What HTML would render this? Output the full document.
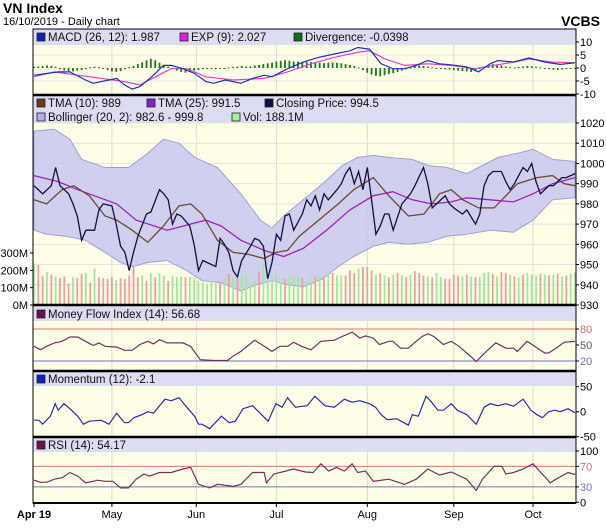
<!DOCTYPE html>
<html><head><meta charset="utf-8">
<style>
body{margin:0;background:#fff;width:606px;height:525px;overflow:hidden;font-family:"Liberation Sans",sans-serif;}
svg text{font-family:"Liberation Sans",sans-serif;}
</style></head>
<body>
<svg id="c" width="606" height="525" xmlns="http://www.w3.org/2000/svg">
<text x="3" y="13" font-size="14" font-weight="bold">VN Index</text>
<text x="3" y="25" font-size="11">16/10/2019 - Daily chart</text>
<text x="600" y="26" font-size="14" font-weight="bold" text-anchor="end">VCBS</text>
</svg>
<script>
// ---- data ----
const closeDays=[0,2,4,5,6,7,8,9,10,11,12,14,15,16,18,19,20,21,22,23,24,26,27,29,30,31,32,33,34,36,37,38,39,40,42,43,44,45,46,47,48,50,51,52,53,54,55,56,57,58,59,60,62,63,64,65,66,67,68,70,71,72,73,74,75,76,77,78,79,80,81,82,83,85,87,88,90,91,92,93,95,96,97,99,100,102,103,104,105,106,108,109,110,111,112,113,114,115,116,117,119,120,122,123,125];
const closeVals=[989,985,989,998,989,987,985,980,974,962,967,967,977,980,979,970,959,956,947,956,964,975,976,987,985,982,970,975,974,969,960,947,952,951,949,963,960,956,947,944,952,959,963,962,959,943,951,965,962,974,975,967,975,982,979,984,977,985,982,987,990,995,998,990,996,987,998,982,965,969,975,975,967,980,985,989,998,990,978,980,984,980,978,975,977,970,975,989,994,996,996,991,987,990,994,998,996,1000,991,985,989,989,993,993,995];
const tma25Days=[0,5.6,10.1,19.1,23.6,30.8,34.4,39.7,43.3,47.8,53.2,57.7,62.2,67.6,73,78.4,82.9,87.4,91.9,96.4,100,105.4,110.8,115.3,119.8,125];
const tma25Vals=[994,991,987,980,972,967,969,972,969,962,957,954,958,967,977,984,986,982,980,981,983,982,981,985,990,993];
const tma10Days=[0,2.9,6.5,9.2,12.8,16.4,19.1,22.7,26.3,29.9,33.5,36.2,38.8,42.4,46,49.6,53.2,55.9,58.6,61.3,65.8,70.3,73.9,78.4,82,86.5,90.1,93.7,96.4,99.1,102.7,106.3,109,111.7,116.2,119.8,122.5,125];
const tma10Vals=[982,980,987,989,984,974,972,967,961,969,979,980,975,962,956,955,953,956,957,964,972,980,987,993,984,974,975,985,987,982,978,978,984,990,993,994,990,989];
const bbUpDays=[0,4.7,8.3,11,16.4,21.8,26.3,29.9,33.5,37.1,42.4,47.8,52.3,55,57.7,62.2,66.7,71.2,74.8,78.4,82,87.4,91,95.5,100,103.6,107.2,111.7,115.3,119.8,125];
const bbUpVals=[1016,1017,1012,1002,998,998,1005,1012,1010,1003,998,985,972,968,974,982,990,999,1003,1004,1003,1002,999,998,995,999,1003,1005,1007,1002,1001];
const bbLoDays=[0,2.9,7.4,11.9,16.4,20,22.7,26.3,30.8,35.3,38.8,43.3,47.8,51.4,55,58.6,62.2,66.7,70.3,73.9,78.4,82,86.5,91,95.5,100,105.4,110.8,115.3,119.8,125];
const bbLoVals=[967,965,964,962,956,951,949,951,952,947,942,941,937,940,942,940,939,943,949,954,959,961,960,961,964,965,967,966,972,982,983];
const volumes=[240,230,165,190,175,165,155,165,125,160,155,180,185,130,210,160,155,150,160,145,155,150,170,225,160,170,140,185,160,185,170,140,170,160,165,160,165,155,140,130,120,140,125,130,155,180,160,160,170,185,125,140,190,240,160,160,165,140,150,165,165,170,155,130,155,165,175,165,180,185,170,170,170,200,185,210,220,220,200,175,185,170,160,175,185,170,160,175,195,185,170,165,160,185,160,150,150,175,170,165,175,165,160,165,185,190,180,165,190,185,175,165,160,175,185,175,170,180,175,170,175,180,165,170,180,188];
const volDir="gddgdgdddgddgdgddddgdddddgdgdggdgggdgggggggdgdgdggggdgggggdgggdggdgdgdggdddgdddgdgdgdgdgdddgdggddddgdgdgggdgddgdgdgggdgdgdgdgg";
const macdDays=[0,5.6,8.3,11.9,13.7,17.3,19.1,20.9,22.7,24.5,27.2,29.9,31.7,34.4,37.1,39.7,41.5,44.2,47.8,50.5,53.2,55,58.6,62.2,65.8,69.4,73,74.8,77.5,80.2,82.9,85.6,88.3,91,93.7,96.4,100,102.7,105.4,107.2,110.8,114.4,118,121.6,125];
const macdVals=[-2.75,-1.5,-1.5,-4.6,-5.9,-4.6,-4,-6.5,-8.1,-7.1,-3.4,1,1,-0.25,-2.1,-5.2,-5.9,-4.6,-5.9,-4,-2.75,-3.4,-0.25,2.25,4.1,5.4,6.6,7.9,7.25,1.6,-0.25,-0.25,1,2.9,1.6,1.25,0.4,-1.5,1.6,2.9,2.25,3.9,2.25,1.4,1.987];
const expDays=[0,4.7,10.1,15.5,20.9,24.5,28.1,31.7,35.3,39.7,46,53.2,58.6,64,69.4,74.8,77.5,81.1,85.6,91,96.4,101.8,106.3,110.8,114.4,119.8,125];
const expVals=[-3.4,-1.5,-2.75,-4,-5.25,-6.5,-3.4,-0.25,-0.25,-3.4,-4.6,-4,-1.5,1.6,4.1,6,6.6,3.5,1,1.6,1,-0.25,1,2.25,3.5,2.25,2.027];
const divergence=[0.5,0.6,0.8,1,0.8,0.5,-0.5,-1,-1.2,-1.3,-1,-0.8,-0.3,0.3,0.5,0.3,-0.3,-0.8,-1.3,-1.5,-1.2,-0.5,0.3,0.8,1.5,2.2,3,3.5,3,2,1.2,0.5,-0.3,-1,-1.5,-1.8,-1.5,-1,-0.8,-0.5,-0.3,-0.3,-0.5,-0.4,-0.2,0.2,0.4,0.6,0.8,0.5,0.6,1,1.2,1.5,1.8,2,2.5,2.8,3,2.8,2.5,2.5,2.2,2.4,2.3,2.1,2,1.9,2,2.1,2,1.8,1.5,1.2,0.8,0.2,-0.8,-1.8,-2.5,-3,-3.2,-2.8,-2.4,-2,-1.5,-1,-0.5,0.2,0.8,1,0.8,0.5,0.2,-0.2,-0.4,-0.5,-0.6,-0.8,-1,-1.2,-1.3,-1.5,-1.2,-0.3,0.5,1.2,1.5,1.3,1,0.6,0.3,0.2,0.4,0.6,0.8,0.7,0.5,0.2,-0.2,-0.5,-0.7,-0.8,-0.6,-0.4,-0.2,-0.04];
const mfiDays=[0,1.5,2.9,4.7,6.5,8.3,10.1,11.9,13.7,15,16.4,19.1,20.9,22.7,24.5,26.3,27.6,29,30.8,34.4,36.2,38.4,41.5,44.7,46,47.8,51,53.2,55,56.8,58.6,60,61.8,64,66.3,69.4,71.2,73.5,75.3,76.6,78.4,79.8,82,82.9,84.7,86.5,88.3,89.7,91,92.4,94.6,96.4,98.2,100.4,102.2,104.5,106.7,109,110.8,111.7,113.9,115.7,118,118.9,120.6,122.5,125];
const mfiVals=[47.5,41,47.5,54,57,65,65,57,49,54,47.5,46,40,40,51,57,52,60,54,54,47.5,22.5,21,21,29,38,59,47.5,38,47.5,47.5,55,47.5,41,57,59,66,74,63,67,63,51,57,57,44,44,57,66,71,66,51,57,47.5,32,19,38,54,44,44,38,57,47.5,35,35,44,55,56.68];
const momDays=[0,1.1,2,3.8,4.9,5.6,6.9,8.3,10.1,11.4,12.8,15.5,17.3,19.1,20.9,21.8,23.1,24.9,26.3,27.6,29,30.3,31.7,33.5,35.3,37.1,38,38.8,40.6,43.3,45.1,46.5,48.3,50.5,51.9,54.1,55.9,57.3,58.6,60.4,63.1,64.9,67.2,69.4,71.7,73.5,75.3,77.5,78.9,80.2,81.6,83.8,86.5,87.4,88.8,90.6,91.9,93.3,94.6,96.4,97.8,100,102.2,104,105.4,107.2,109,110.8,113,114.8,116.2,117.5,118.9,120.3,121.6,123.4,125];
const momVals=[-17,-17,-25,-9,16,3,16,6,-9,-25,-19,-17,-25,-3,-22,-22,-12,-6,0,-3,12,25,22,28,9,-9,-25,-25,-34,-9,-22,-19,6,12,0,-19,16,9,28,9,12,31,12,9,25,19,22,16,9,-6,-16,-14,-27,-6,-9,31,19,3,3,16,3,-6,-25,9,16,12,16,11,25,3,-6,-12,0,3,0,6,-2.1];
const rsiDays=[0,1.5,2.9,4.7,6.5,8.3,10.1,11.9,13.7,14.6,16.4,18.2,20,21.8,23.6,25.4,26.7,29,31.7,34.4,36.2,38,40.6,42.4,46,47.8,50.5,53.2,53.7,55.4,58.2,60,62.7,64.5,66.3,68.1,69.9,71.7,73.5,74.8,76.6,78.4,82,85.6,88.3,91,93.7,96.4,100,102.2,103.6,106.3,108.1,109,110.8,113,115.3,117.1,119.3,120.6,123.4,125];
const rsiVals=[43,39,39,45,48,58,51,38,41,43,41,41,28,28,45,55,51,58,58,65,68,35,28,35,31,35,58,58,38,55,61,65,59,58,75,61,68,61,75,58,61,41,45,35,45,65,53,59,45,23,45,70,70,55,58,65,75,58,38,45,58,54.17];
const monthLabels=["Apr 19","May","Jun","Jul","Aug","Sep","Oct"];
const monthDays=[0,18,37.5,56,77,97,115.3];
const priceTicks=[1020,1010,1000,990,980,970,960,950,940,930];
const volTicks=[300,200,100,0];
const macdTicks=[10,5,0,-5,-10];
const mfiTicks=[80,50,20];
const momTicks=[50,0,-50];
const rsiTicks=[100,70,30,0];

// ---- scales ----
const L=33,R=576,NDAYS=125;
const X=d=>L+1+d*(R-L-2)/NDAYS;
const yPrice=v=>123+(1020-v)*2.022;
const yVol=v=>305-v*0.1733;
const yMacd=v=>68-v*2.6;
const yMfi=v=>329+(80-v)*0.5333;
const yMom=v=>411.7-v*0.5;
const yRsi=v=>502.3-v*0.513;

const svg=document.getElementById('c');
const NS='http://www.w3.org/2000/svg';
function mk(tag,attrs,parent){const e=document.createElementNS(NS,tag);for(const k in attrs)e.setAttribute(k,attrs[k]);(parent||svg).appendChild(e);return e;}
function pathOf(days,vals,ys){return days.map((d,i)=>(i?'L':'M')+X(d).toFixed(1)+','+ys(vals[i]).toFixed(1)).join('');}

const panels=[[29,45,95,'macd-panel'],[95,123,305,'price-panel'],[305,321,371,'mfi-panel'],[371,386,437,'momentum-panel'],[437,452,503,'rsi-panel']];
panels.forEach(p=>{
  const r=mk('rect',{x:L,y:p[0],width:R-L,height:p[2]-p[0],fill:'#ffffe8'});
  
  
  const h=mk('rect',{x:L,y:p[0],width:R-L,height:p[1]-p[0],fill:'#dcdcf2'});
  
  
});
monthDays.forEach((d,i)=>{
  if(i===0)return;
  panels.forEach(p=>{
    const g=mk('line',{x1:X(d),x2:X(d),y1:p[1],y2:p[2],stroke:'#d8d8d8','stroke-width':1});
    
    
  });
});
priceTicks.forEach(v=>{
  const g=mk('line',{x1:L,x2:R,y1:yPrice(v),y2:yPrice(v),stroke:'#e4e4e4','stroke-width':1});
  
  
});
[5,-5].forEach(v=>{const g=mk('line',{x1:L,x2:R,y1:yMacd(v),y2:yMacd(v),stroke:'#e4e4e4'});});

const bb=mk('path',{d:pathOf(bbUpDays,bbUpVals,yPrice)+bbLoDays.slice().reverse().map((d,i,a)=>'L'+X(d).toFixed(1)+','+yPrice(bbLoVals[bbLoVals.length-1-i]).toFixed(1)).join('')+'Z',fill:'#c8c8ee','fill-opacity':0.85,stroke:'#9f9fd8','stroke-width':1});



volumes.forEach((v,i)=>{
  const b=mk('rect',{x:X(i)-0.9,y:yVol(v),width:1.8,height:305-yVol(v),fill:volDir[i]==='g'?'#9fe89a':'#ef9f9a'});
  
  
});
const t25=mk('path',{d:pathOf(tma25Days,tma25Vals,yPrice),fill:'none',stroke:'#a020c0','stroke-width':1.3});


const t10=mk('path',{d:pathOf(tma10Days,tma10Vals,yPrice),fill:'none',stroke:'#6b4a30','stroke-width':1.3});


const cl=mk('path',{d:pathOf(closeDays,closeVals,yPrice),fill:'none',stroke:'#101040','stroke-width':1.3});



divergence.forEach((v,i)=>{
  const y0=yMacd(0),y1=yMacd(v);
  const b=mk('rect',{x:X(i)-0.9,y:Math.min(y0,y1),width:1.8,height:Math.max(1,Math.abs(y1-y0)),fill:'#1a7a1a'});
  
  
});
const ex=mk('path',{d:pathOf(expDays,expVals,yMacd),fill:'none',stroke:'#e040d0','stroke-width':1.2});


const mc=mk('path',{d:pathOf(macdDays,macdVals,yMacd),fill:'none',stroke:'#2030b0','stroke-width':1.2});



[[80,'#e07070'],[20,'#7070c0']].forEach(a=>{const l=mk('line',{x1:L,x2:R,y1:yMfi(a[0]),y2:yMfi(a[0]),stroke:a[1]});});
const mf=mk('path',{d:pathOf(mfiDays,mfiVals,yMfi),fill:'none',stroke:'#703060','stroke-width':1.2});


const mo=mk('path',{d:pathOf(momDays,momVals,yMom),fill:'none',stroke:'#2a2ab0','stroke-width':1.2});


[[70,'#e07070'],[30,'#7070c0']].forEach(a=>{const l=mk('line',{x1:L,x2:R,y1:yRsi(a[0]),y2:yRsi(a[0]),stroke:a[1]});});
const rs=mk('path',{d:pathOf(rsiDays,rsiVals,yRsi),fill:'none',stroke:'#703060','stroke-width':1.2});



panels.forEach(p=>{
  const b=mk('rect',{x:L,y:p[0],width:R-L,height:p[2]-p[0],fill:'none',stroke:'#000','stroke-width':1});
  
  
  const t=mk('line',{x1:L,x2:R,y1:p[0],y2:p[0],stroke:'#000','stroke-width':p[0]===29?1:2.5});
  
  
});
const ax=mk('line',{x1:L,x2:R,y1:503,y2:503,stroke:'#000','stroke-width':2});



function rlabel(v,y,name,color){
  const tk=mk('line',{x1:R,x2:R+3,y1:y,y2:y,stroke:'#000'});
  
  
  const t=mk('text',{x:R+4,y:y+4,'font-size':11,fill:color||'#000'});
  t.textContent=v;
  
  
}
priceTicks.forEach(v=>rlabel(v,yPrice(v),'price-axis'));
macdTicks.forEach(v=>rlabel(v,yMacd(v),'macd-axis'));
mfiTicks.forEach(v=>rlabel(v,yMfi(v),'mfi-axis',v===80?'#d07070':v===20?'#7070c0':'#555'));
momTicks.forEach(v=>rlabel(v,yMom(v),'momentum-axis'));
rsiTicks.forEach(v=>rlabel(v,yRsi(v),'rsi-axis',v===70?'#d07070':v===30?'#7070c0':'#000'));
volTicks.forEach(v=>{
  const t=mk('text',{x:28,y:yVol(v)+4,'font-size':11,'text-anchor':'end'});
  t.textContent=v+'M';
  
  
  const tk=mk('line',{x1:L-3,x2:L,y1:yVol(v),y2:yVol(v),stroke:'#000'});
  
  
});
monthDays.forEach((d,i)=>{
  const t=mk('text',{x:X(d),y:518,'font-size':11,'text-anchor':'middle','font-weight':i===0?'bold':'normal'});
  t.textContent=monthLabels[i];
  
  
  const tk=mk('line',{x1:X(d),x2:X(d),y1:503,y2:507,stroke:'#000'});
  
  
});

function legend(x,y,color,text){
  const s=mk('rect',{x:x,y:y-8,width:8,height:8,fill:color,stroke:'#222','stroke-width':0.8});
  
  
  const t=mk('text',{x:x+11,y:y,'font-size':11.5,fill:'#111'});
  t.textContent=text;
  
  
}
legend(37,41,'#1020c0','MACD (26, 12): 1.987');
legend(180,41,'#e020e0','EXP (9): 2.027');
legend(294,41,'#107010','Divergence: -0.0398');
legend(37,107,'#6b3a1a','TMA (10): 989');
legend(147,107,'#8a20d0','TMA (25): 991.5');
legend(265,107,'#101040','Closing Price: 994.5');
legend(37,121,'#b0b0ea','Bollinger (20, 2): 982.6 - 999.8');
legend(232,121,'#a0f0a0','Vol: 188.1M');
legend(37,318,'#6a1050','Money Flow Index (14): 56.68');
legend(37,383,'#1020c0','Momentum (12): -2.1');
legend(37,449,'#6a1050','RSI (14): 54.17');
</script>
</body></html>
